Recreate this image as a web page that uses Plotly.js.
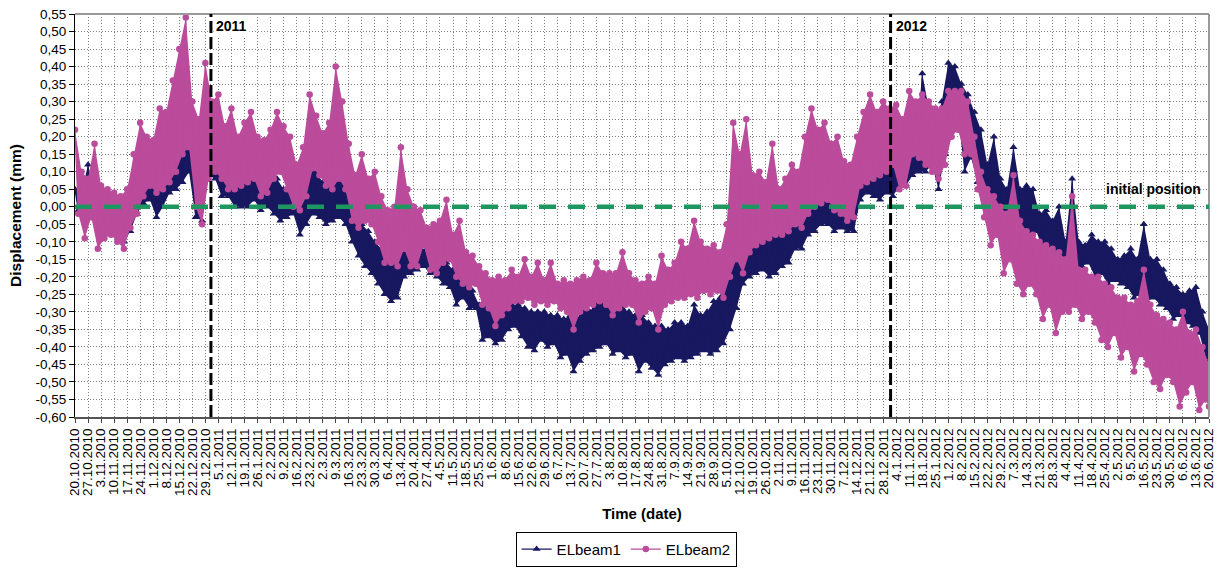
<!DOCTYPE html>
<html><head><meta charset="utf-8">
<script src="https://cdn.plot.ly/plotly-3.0.1.min.js"></script>
<style>html,body{margin:0;padding:0;background:#fff}#chart{width:1217px;height:568px}</style>
</head><body><div id="chart"></div>
<script>
// Half-week samples (every 3.5 days) starting 20.10.2010: band upper (hi) and lower (lo) values, mm
const sampleStepDays = 3.5;
const beam1Hi = [0.05,0.04,0.12,0.04,0.03,0.02,0.00,-0.01,0.04,0.07,
0.10,0.12,0.10,0.08,0.10,0.12,0.18,0.23,0.15,0.10,
0.16,0.15,0.13,0.10,0.07,0.06,0.10,0.13,0.10,0.08,
0.09,0.08,0.05,0.04,0.02,0.05,0.12,0.10,0.07,0.06,
0.10,0.08,0.02,-0.01,-0.05,-0.07,-0.10,-0.12,-0.13,-0.12,
-0.10,-0.10,-0.11,-0.12,-0.12,-0.14,-0.16,-0.16,-0.18,-0.19,
-0.23,-0.24,-0.28,-0.28,-0.30,-0.29,-0.27,-0.28,-0.28,-0.29,
-0.30,-0.30,-0.30,-0.31,-0.31,-0.32,-0.31,-0.32,-0.29,-0.30,
-0.27,-0.28,-0.28,-0.29,-0.29,-0.30,-0.31,-0.31,-0.33,-0.34,
-0.34,-0.35,-0.33,-0.33,-0.34,-0.28,-0.31,-0.30,-0.27,-0.26,
-0.15,-0.05,-0.08,-0.07,-0.06,-0.07,-0.09,-0.08,-0.05,-0.06,
-0.03,-0.04,0.03,0.07,0.03,0.02,0.01,0.00,0.00,0.00,
0.12,0.14,0.16,0.15,0.17,0.16,0.14,0.13,0.19,0.18,
0.38,0.28,0.24,0.30,0.41,0.40,0.35,0.32,0.27,0.22,
0.12,0.20,0.08,0.05,0.17,0.05,0.06,0.05,-0.02,-0.01,
-0.04,0.00,-0.10,0.08,-0.10,-0.11,-0.08,-0.10,-0.10,-0.12,
-0.15,-0.14,-0.12,-0.15,-0.05,-0.15,-0.15,-0.18,-0.22,-0.23,
-0.25,-0.24,-0.23,-0.30,-0.35];
const beam1Lo = [-0.01,-0.02,-0.02,-0.03,-0.04,-0.05,-0.08,-0.10,-0.07,-0.02,
0.01,0.02,-0.03,0.00,0.04,0.05,0.07,0.10,-0.03,-0.04,
0.09,0.08,0.03,0.03,0.00,0.00,0.00,0.02,-0.01,0.00,
-0.02,-0.04,-0.03,-0.02,-0.08,-0.05,-0.02,-0.03,-0.05,-0.04,
-0.03,-0.05,-0.10,-0.14,-0.17,-0.19,-0.22,-0.25,-0.27,-0.26,
-0.20,-0.19,-0.18,-0.17,-0.19,-0.20,-0.22,-0.23,-0.28,-0.26,
-0.29,-0.29,-0.38,-0.37,-0.39,-0.38,-0.35,-0.34,-0.37,-0.40,
-0.41,-0.38,-0.40,-0.39,-0.43,-0.42,-0.47,-0.44,-0.42,-0.41,
-0.40,-0.39,-0.42,-0.41,-0.43,-0.42,-0.47,-0.44,-0.46,-0.48,
-0.45,-0.44,-0.43,-0.44,-0.43,-0.42,-0.41,-0.42,-0.41,-0.39,
-0.35,-0.29,-0.22,-0.20,-0.19,-0.18,-0.20,-0.19,-0.17,-0.16,
-0.12,-0.12,-0.08,-0.07,-0.05,-0.05,-0.07,-0.06,-0.07,-0.07,
0.02,0.04,0.03,0.02,0.04,0.03,0.06,0.06,0.09,0.10,
0.10,0.12,0.05,0.15,0.25,0.26,0.10,0.14,0.07,0.05,
-0.02,0.00,-0.08,-0.05,-0.10,-0.10,-0.08,-0.07,-0.12,-0.12,
-0.18,-0.16,-0.18,-0.17,-0.17,-0.16,-0.20,-0.19,-0.22,-0.21,
-0.22,-0.23,-0.26,-0.25,-0.27,-0.26,-0.28,-0.29,-0.32,-0.31,
-0.33,-0.34,-0.36,-0.43,-0.44];
const beam2Hi = [0.22,0.10,0.08,0.18,0.06,0.05,0.04,0.03,0.05,0.15,
0.24,0.20,0.19,0.28,0.27,0.36,0.45,0.54,0.30,0.25,
0.41,0.30,0.32,0.23,0.28,0.20,0.24,0.27,0.20,0.19,
0.22,0.27,0.23,0.20,0.12,0.17,0.32,0.26,0.21,0.24,
0.40,0.30,0.18,0.09,0.15,0.08,0.10,0.03,-0.01,0.00,
0.17,0.05,0.00,-0.01,-0.06,-0.05,-0.04,0.02,-0.08,-0.04,
-0.13,-0.14,-0.17,-0.19,-0.21,-0.20,-0.21,-0.18,-0.20,-0.15,
-0.20,-0.16,-0.21,-0.16,-0.22,-0.21,-0.22,-0.21,-0.20,-0.21,
-0.16,-0.19,-0.19,-0.19,-0.13,-0.19,-0.21,-0.22,-0.20,-0.22,
-0.14,-0.18,-0.16,-0.10,-0.12,-0.04,-0.10,-0.12,-0.11,-0.13,
-0.05,0.24,0.15,0.25,0.09,0.10,0.07,0.18,0.05,0.08,
0.12,0.10,0.20,0.28,0.22,0.24,0.18,0.20,0.13,0.12,
0.20,0.27,0.32,0.27,0.30,0.28,0.29,0.25,0.33,0.30,
0.32,0.30,0.28,0.28,0.33,0.33,0.33,0.30,0.20,0.10,
0.05,0.03,0.00,-0.02,0.09,-0.04,-0.07,-0.08,-0.10,-0.11,
-0.12,-0.13,-0.15,0.03,-0.18,-0.18,-0.20,-0.20,-0.22,-0.23,
-0.26,-0.26,-0.28,-0.27,-0.18,-0.28,-0.31,-0.32,-0.33,-0.35,
-0.30,-0.36,-0.35,-0.40,-0.45];
const beam2Lo = [-0.02,-0.09,-0.03,-0.12,-0.09,-0.08,-0.10,-0.12,-0.06,-0.02,
0.03,0.06,0.04,0.05,0.07,0.10,0.15,0.17,0.00,-0.05,
0.08,0.10,0.08,0.05,0.05,0.06,0.07,0.08,0.03,0.04,
0.08,0.10,0.05,0.00,-0.01,0.03,0.11,0.09,0.06,0.05,
0.08,0.05,-0.04,-0.06,-0.04,-0.05,-0.10,-0.16,-0.16,-0.17,
-0.12,-0.17,-0.17,-0.11,-0.18,-0.19,-0.16,-0.15,-0.20,-0.22,
-0.23,-0.22,-0.28,-0.29,-0.34,-0.31,-0.29,-0.27,-0.27,-0.26,
-0.28,-0.27,-0.28,-0.27,-0.29,-0.30,-0.35,-0.30,-0.29,-0.28,
-0.27,-0.28,-0.31,-0.29,-0.28,-0.28,-0.33,-0.30,-0.29,-0.35,
-0.28,-0.27,-0.26,-0.26,-0.25,-0.26,-0.24,-0.25,-0.24,-0.26,
-0.20,-0.15,-0.19,-0.13,-0.11,-0.10,-0.09,-0.08,-0.08,-0.07,
-0.05,-0.06,-0.02,0.00,0.01,0.02,-0.01,-0.02,-0.04,-0.03,
0.06,0.07,0.08,0.09,0.10,0.12,0.05,0.06,0.15,0.14,
0.12,0.10,0.08,0.12,0.20,0.22,0.15,0.15,0.05,-0.03,
-0.11,-0.08,-0.19,-0.15,-0.22,-0.25,-0.22,-0.25,-0.32,-0.28,
-0.36,-0.30,-0.30,-0.28,-0.32,-0.30,-0.33,-0.38,-0.40,-0.36,
-0.43,-0.40,-0.47,-0.42,-0.45,-0.50,-0.52,-0.48,-0.50,-0.57,
-0.53,-0.50,-0.58,-0.55,-0.57];

const xTickLabels = ['20.10.2010','27.10.2010','3.11.2010','10.11.2010','17.11.2010','24.11.2010','1.12.2010','8.12.2010','15.12.2010','22.12.2010','29.12.2010',
'5.1.2011','12.1.2011','19.1.2011','26.1.2011','2.2.2011','9.2.2011','16.2.2011','23.2.2011','2.3.2011','9.3.2011','16.3.2011','23.3.2011','30.3.2011','6.4.2011','13.4.2011','20.4.2011','27.4.2011','4.5.2011','11.5.2011','18.5.2011','25.5.2011','1.6.2011','8.6.2011','15.6.2011','22.6.2011','29.6.2011','6.7.2011','13.7.2011','20.7.2011','27.7.2011','3.8.2011','10.8.2011','17.8.2011','24.8.2011','31.8.2011','7.9.2011','14.9.2011','21.9.2011','28.9.2011','5.10.2011','12.10.2011','19.10.2011','26.10.2011','2.11.2011','9.11.2011','16.11.2011','23.11.2011','30.11.2011','7.12.2011','14.12.2011','21.12.2011','28.12.2011',
'4.1.2012','11.1.2012','18.1.2012','25.1.2012','1.2.2012','8.2.2012','15.2.2012','22.2.2012','29.2.2012','7.3.2012','14.3.2012','21.3.2012','28.3.2012','4.4.2012','11.4.2012','18.4.2012','25.4.2012','2.5.2012','9.5.2012','16.5.2012','23.5.2012','30.5.2012','6.6.2012','13.6.2012','20.6.2012'];
const yTickVals = [0.55,0.5,0.45,0.4,0.35,0.3,0.25,0.2,0.15,0.1,0.05,0,-0.05,-0.1,-0.15,-0.2,-0.25,-0.3,-0.35,-0.4,-0.45,-0.5,-0.55,-0.6];
const yTickLabels = ['0,55','0,50','0,45','0,40','0,35','0,30','0,25','0,20','0,15','0,10','0,05','0,00','-0,05','-0,10','-0,15','-0,20','-0,25','-0,30','-0,35','-0,40','-0,45','-0,50','-0,55','-0,60'];
const yearMarks = ['2011-01-01','2012-01-01'];
const yearLabels = ['2011','2012'];

const DAY = 86400000;
const base = Date.UTC(2010, 9, 20);
const lastDay = (xTickLabels.length - 1) * 7;
const t = d => base + Math.min(d, lastDay) * DAY;
const tickVals = xTickLabels.map((_, k) => t(k * 7));

function zig(hi, lo) {
  const x = [], y = [];
  for (let i = 0; i < hi.length; i++) {
    x.push(t(i * sampleStepDays)); y.push(hi[i]);
    x.push(t(i * sampleStepDays + sampleStepDays / 2)); y.push(lo[i]);
  }
  return {x, y};
}
function band(hi, lo) {
  const x = [], y = [];
  for (let i = 0; i < hi.length; i++) { x.push(t(i * sampleStepDays)); y.push(hi[i]); }
  for (let i = lo.length - 1; i >= 0; i--) { x.push(t(i * sampleStepDays + sampleStepDays / 2)); y.push(lo[i]); }
  return {x, y};
}
const navy = '#181860', pink = '#bb4b9b';
const b1 = band(beam1Hi, beam1Lo), z1 = zig(beam1Hi, beam1Lo);
const b2 = band(beam2Hi, beam2Lo), z2 = zig(beam2Hi, beam2Lo);

const traces = [
  {x: b1.x, y: b1.y, type: 'scatter', mode: 'lines', fill: 'toself', fillcolor: navy, line: {width: 0, color: navy}, showlegend: false, hoverinfo: 'skip'},
  {x: z1.x, y: z1.y, type: 'scatter', mode: 'lines+markers', name: 'ELbeam1', line: {color: navy, width: 1.2}, marker: {symbol: 'triangle-up', size: 7, color: navy}},
  {x: b2.x, y: b2.y, type: 'scatter', mode: 'lines', fill: 'toself', fillcolor: pink, line: {width: 0, color: pink}, showlegend: false, hoverinfo: 'skip'},
  {x: z2.x, y: z2.y, type: 'scatter', mode: 'lines+markers', name: 'ELbeam2', line: {color: pink, width: 1.2}, marker: {symbol: 'circle', size: 6.5, color: pink}}
];

const grid = {showgrid: true, gridcolor: '#808080', gridwidth: 1, griddash: '1px,2px', zeroline: false};
const shapes = [
  {type: 'line', xref: 'paper', yref: 'paper', x0: 0, x1: 1, y0: 1, y1: 1, line: {color: '#9a9a9a', width: 2}},
  {type: 'line', xref: 'paper', yref: 'paper', x0: 1, x1: 1, y0: 0, y1: 1, line: {color: '#9a9a9a', width: 2}},
  {type: 'line', xref: 'paper', yref: 'y', x0: 0, x1: 1, y0: 0, y1: 0, line: {color: '#1e9660', width: 4.5, dash: '17px,12px'}}
].concat(yearMarks.map(d => ({type: 'line', xref: 'x', yref: 'paper', x0: d, x1: d, y0: 0, y1: 1, line: {color: '#000', width: 3, dash: '12px,4px'}})));
const annotations = yearMarks.map((d, k) => ({x: d, xref: 'x', y: 1, yref: 'paper', xanchor: 'left', yanchor: 'top', xshift: 2, yshift: -1, text: '<b>' + yearLabels[k] + '</b>', showarrow: false, bgcolor: '#fff', borderpad: 2, font: {size: 14, color: '#000'}}))
  .concat([{x: 0.995, xref: 'paper', y: 0.05, yref: 'y', xanchor: 'right', yanchor: 'middle', text: '<b>initial position</b>', showarrow: false, font: {size: 14, color: '#000'}}]);

const layout = {
  width: 1217, height: 568,
  margin: {l: 75, r: 8, t: 14, b: 151},
  paper_bgcolor: '#fff', plot_bgcolor: '#fff',
  font: {family: 'Liberation Sans, Arial, sans-serif', color: '#000', size: 13},
  hovermode: false,
  showlegend: true,
  legend: {orientation: 'h', x: 0.486, xanchor: 'center', xref: 'paper', y: 0.002, yanchor: 'bottom', yref: 'container', bordercolor: '#000', borderwidth: 1, bgcolor: '#fff', font: {size: 15}, traceorder: 'normal', tracegroupgap: 0},
  xaxis: Object.assign({type: 'date', range: [t(0), t(lastDay)], tickmode: 'array', tickvals: tickVals, ticktext: xTickLabels, tickangle: -90, tickfont: {size: 13.5}, ticks: 'outside', ticklen: 4, tickcolor: '#444', showline: true, linecolor: '#555', linewidth: 2, automargin: false, title: {text: '<b>Time (date)</b>', font: {size: 15}, standoff: 14}}, grid),
  yaxis: Object.assign({range: [-0.6, 0.55], tickmode: 'array', tickvals: yTickVals, ticktext: yTickLabels, tickfont: {size: 13.5}, ticks: 'outside', ticklen: 5, tickcolor: '#000', showline: true, linecolor: '#000', linewidth: 1, automargin: false, title: {text: '<b>Displacement (mm)</b>', font: {size: 15.5}, standoff: 10}}, grid),
  shapes: shapes,
  annotations: annotations
};
Plotly.newPlot('chart', traces, layout, {displayModeBar: false, staticPlot: true});
</script></body></html>
